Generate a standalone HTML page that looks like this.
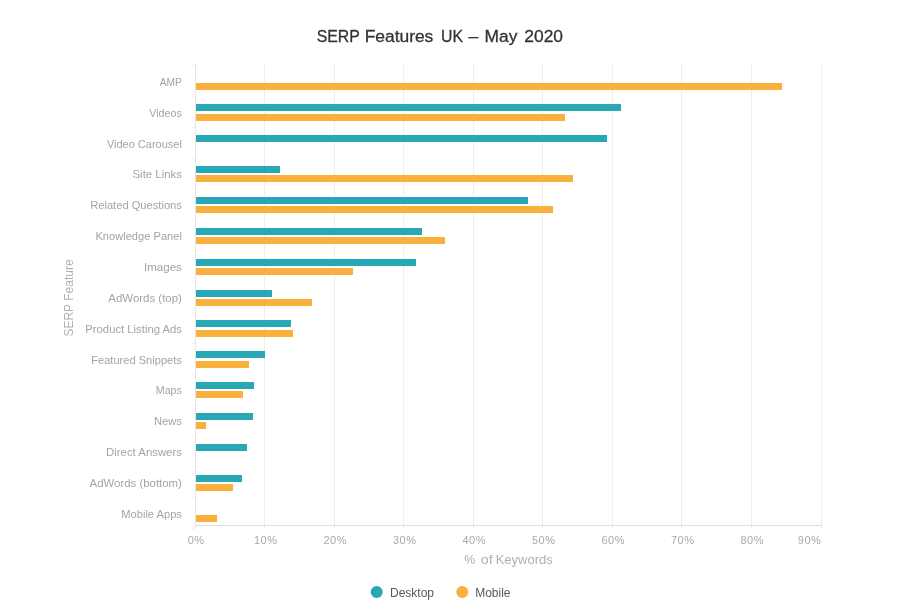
<!DOCTYPE html><html><head><meta charset="utf-8"><style>html,body{margin:0;padding:0;background:#fff;width:898px;height:613px;overflow:hidden}svg{display:block}text{font-family:"Liberation Sans",sans-serif}</style></head><body>
<svg width="898" height="613" viewBox="0 0 898 613" shape-rendering="crispEdges">
<rect x="0" y="0" width="898" height="613" fill="#fff"/>
<rect x="264" y="64" width="1" height="464" fill="#eeeeee"/>
<rect x="334" y="64" width="1" height="464" fill="#eeeeee"/>
<rect x="403" y="64" width="1" height="464" fill="#eeeeee"/>
<rect x="473" y="64" width="1" height="464" fill="#eeeeee"/>
<rect x="542" y="64" width="1" height="464" fill="#eeeeee"/>
<rect x="612" y="64" width="1" height="464" fill="#eeeeee"/>
<rect x="681" y="64" width="1" height="464" fill="#eeeeee"/>
<rect x="751" y="64" width="1" height="464" fill="#eeeeee"/>
<rect x="821" y="64" width="1" height="464" fill="#eeeeee"/>
<rect x="195" y="525" width="626" height="1" fill="#e0e0e0"/>
<rect x="195" y="525" width="1" height="3" fill="#e4e4e4"/>
<rect x="264" y="525" width="1" height="3" fill="#e4e4e4"/>
<rect x="334" y="525" width="1" height="3" fill="#e4e4e4"/>
<rect x="403" y="525" width="1" height="3" fill="#e4e4e4"/>
<rect x="473" y="525" width="1" height="3" fill="#e4e4e4"/>
<rect x="542" y="525" width="1" height="3" fill="#e4e4e4"/>
<rect x="612" y="525" width="1" height="3" fill="#e4e4e4"/>
<rect x="681" y="525" width="1" height="3" fill="#e4e4e4"/>
<rect x="751" y="525" width="1" height="3" fill="#e4e4e4"/>
<rect x="821" y="525" width="1" height="3" fill="#e4e4e4"/>
<rect x="192" y="65" width="3" height="1" fill="#f0f0f0"/>
<rect x="192" y="96" width="3" height="1" fill="#f0f0f0"/>
<rect x="192" y="127" width="3" height="1" fill="#f0f0f0"/>
<rect x="192" y="158" width="3" height="1" fill="#f0f0f0"/>
<rect x="192" y="188" width="3" height="1" fill="#f0f0f0"/>
<rect x="192" y="219" width="3" height="1" fill="#f0f0f0"/>
<rect x="192" y="250" width="3" height="1" fill="#f0f0f0"/>
<rect x="192" y="281" width="3" height="1" fill="#f0f0f0"/>
<rect x="192" y="312" width="3" height="1" fill="#f0f0f0"/>
<rect x="192" y="343" width="3" height="1" fill="#f0f0f0"/>
<rect x="192" y="374" width="3" height="1" fill="#f0f0f0"/>
<rect x="192" y="405" width="3" height="1" fill="#f0f0f0"/>
<rect x="192" y="435" width="3" height="1" fill="#f0f0f0"/>
<rect x="192" y="466" width="3" height="1" fill="#f0f0f0"/>
<rect x="192" y="497" width="3" height="1" fill="#f0f0f0"/>
<rect x="192" y="528" width="3" height="1" fill="#f0f0f0"/>
<rect x="195" y="64" width="1" height="464" fill="#e6e6e6"/>
<rect x="196" y="83" width="586.0" height="7" fill="#f8b13d"/>
<rect x="196" y="104" width="425.0" height="7" fill="#27a8b4"/>
<rect x="196" y="114" width="368.7" height="7" fill="#f8b13d"/>
<rect x="196" y="135" width="411.0" height="7" fill="#27a8b4"/>
<rect x="196" y="166" width="83.8" height="7" fill="#27a8b4"/>
<rect x="196" y="175" width="376.9" height="7" fill="#f8b13d"/>
<rect x="196" y="197" width="331.8" height="7" fill="#27a8b4"/>
<rect x="196" y="206" width="356.9" height="7" fill="#f8b13d"/>
<rect x="196" y="228" width="225.7" height="7" fill="#27a8b4"/>
<rect x="196" y="237" width="248.8" height="7" fill="#f8b13d"/>
<rect x="196" y="259" width="219.9" height="7" fill="#27a8b4"/>
<rect x="196" y="268" width="156.6" height="7" fill="#f8b13d"/>
<rect x="196" y="290" width="75.8" height="7" fill="#27a8b4"/>
<rect x="196" y="299" width="115.9" height="7" fill="#f8b13d"/>
<rect x="196" y="320" width="94.9" height="7" fill="#27a8b4"/>
<rect x="196" y="330" width="96.8" height="7" fill="#f8b13d"/>
<rect x="196" y="351" width="68.8" height="7" fill="#27a8b4"/>
<rect x="196" y="361" width="52.8" height="7" fill="#f8b13d"/>
<rect x="196" y="382" width="58.0" height="7" fill="#27a8b4"/>
<rect x="196" y="391" width="46.9" height="7" fill="#f8b13d"/>
<rect x="196" y="413" width="56.8" height="7" fill="#27a8b4"/>
<rect x="196" y="422" width="10.0" height="7" fill="#f8b13d"/>
<rect x="196" y="444" width="50.9" height="7" fill="#27a8b4"/>
<rect x="196" y="475" width="45.9" height="7" fill="#27a8b4"/>
<rect x="196" y="484" width="36.9" height="7" fill="#f8b13d"/>
<rect x="196" y="515" width="20.6" height="7" fill="#f8b13d"/>
</svg>
<svg width="898" height="613" viewBox="0 0 898 613" style="position:absolute;left:0;top:0;will-change:transform">
<text x="316.8" y="42.3" font-size="17.4" fill="#333" stroke="#333" stroke-width="0.3" textLength="43" lengthAdjust="spacingAndGlyphs">SERP</text>
<text x="364.7" y="42.3" font-size="17.4" fill="#333" stroke="#333" stroke-width="0.3">Features</text>
<text x="441.1" y="42.3" font-size="17.4" fill="#333" stroke="#333" stroke-width="0.3" textLength="22" lengthAdjust="spacingAndGlyphs">UK</text>
<text x="468.5" y="42.3" font-size="17.4" fill="#333" stroke="#333" stroke-width="0.3">–</text>
<text x="484.6" y="42.3" font-size="17.4" fill="#333" stroke="#333" stroke-width="0.3">May</text>
<text x="524.3" y="42.3" font-size="17.4" fill="#333" stroke="#333" stroke-width="0.3">2020</text>
<text x="181.9" y="85.8" text-anchor="end" font-size="11" fill="#a4a4a4" textLength="22.19" lengthAdjust="spacingAndGlyphs">AMP</text>
<text x="181.9" y="116.7" text-anchor="end" font-size="11" fill="#a4a4a4" textLength="32.73" lengthAdjust="spacingAndGlyphs">Videos</text>
<text x="181.9" y="147.5" text-anchor="end" font-size="11" fill="#a4a4a4" textLength="75.02" lengthAdjust="spacingAndGlyphs">Video Carousel</text>
<text x="181.9" y="178.4" text-anchor="end" font-size="11" fill="#a4a4a4" textLength="49.36" lengthAdjust="spacingAndGlyphs">Site Links</text>
<text x="181.9" y="209.2" text-anchor="end" font-size="11" fill="#a4a4a4" textLength="91.72" lengthAdjust="spacingAndGlyphs">Related Questions</text>
<text x="181.9" y="240.1" text-anchor="end" font-size="11" fill="#a4a4a4" textLength="86.44" lengthAdjust="spacingAndGlyphs">Knowledge Panel</text>
<text x="181.9" y="270.9" text-anchor="end" font-size="11" fill="#a4a4a4" textLength="37.83" lengthAdjust="spacingAndGlyphs">Images</text>
<text x="181.9" y="301.8" text-anchor="end" font-size="11" fill="#a4a4a4" textLength="73.55" lengthAdjust="spacingAndGlyphs">AdWords (top)</text>
<text x="181.9" y="332.7" text-anchor="end" font-size="11" fill="#a4a4a4" textLength="96.60" lengthAdjust="spacingAndGlyphs">Product Listing Ads</text>
<text x="181.9" y="363.5" text-anchor="end" font-size="11" fill="#a4a4a4" textLength="90.70" lengthAdjust="spacingAndGlyphs">Featured Snippets</text>
<text x="181.9" y="394.4" text-anchor="end" font-size="11" fill="#a4a4a4" textLength="26.08" lengthAdjust="spacingAndGlyphs">Maps</text>
<text x="181.9" y="425.2" text-anchor="end" font-size="11" fill="#a4a4a4" textLength="27.83" lengthAdjust="spacingAndGlyphs">News</text>
<text x="181.9" y="456.1" text-anchor="end" font-size="11" fill="#a4a4a4" textLength="75.80" lengthAdjust="spacingAndGlyphs">Direct Answers</text>
<text x="181.9" y="486.9" text-anchor="end" font-size="11" fill="#a4a4a4" textLength="92.26" lengthAdjust="spacingAndGlyphs">AdWords (bottom)</text>
<text x="181.9" y="517.8" text-anchor="end" font-size="11" fill="#a4a4a4" textLength="60.65" lengthAdjust="spacingAndGlyphs">Mobile Apps</text>
<text x="196.2" y="544" text-anchor="middle" font-size="11" letter-spacing="0.5" fill="#a8a8a8">0%</text>
<text x="265.7" y="544" text-anchor="middle" font-size="11" letter-spacing="0.5" fill="#a8a8a8">10%</text>
<text x="335.2" y="544" text-anchor="middle" font-size="11" letter-spacing="0.5" fill="#a8a8a8">20%</text>
<text x="404.7" y="544" text-anchor="middle" font-size="11" letter-spacing="0.5" fill="#a8a8a8">30%</text>
<text x="474.2" y="544" text-anchor="middle" font-size="11" letter-spacing="0.5" fill="#a8a8a8">40%</text>
<text x="543.7" y="544" text-anchor="middle" font-size="11" letter-spacing="0.5" fill="#a8a8a8">50%</text>
<text x="613.2" y="544" text-anchor="middle" font-size="11" letter-spacing="0.5" fill="#a8a8a8">60%</text>
<text x="682.7" y="544" text-anchor="middle" font-size="11" letter-spacing="0.5" fill="#a8a8a8">70%</text>
<text x="752.2" y="544" text-anchor="middle" font-size="11" letter-spacing="0.5" fill="#a8a8a8">80%</text>
<text x="809.6" y="544" text-anchor="middle" font-size="11" letter-spacing="0.5" fill="#a8a8a8">90%</text>
<text x="464.3" y="563.8" font-size="12" fill="#b0b0b0" textLength="11" lengthAdjust="spacingAndGlyphs">%</text>
<text x="480.7" y="563.8" font-size="12" fill="#b0b0b0" textLength="12" lengthAdjust="spacingAndGlyphs">of</text>
<text x="495.7" y="563.8" font-size="12" fill="#b0b0b0" textLength="57" lengthAdjust="spacingAndGlyphs">Keywords</text>
<text transform="translate(72.6,298) rotate(-90)" x="0" y="0" text-anchor="middle" font-size="12" fill="#b0b0b0">SERP Feature</text>
<circle cx="376.7" cy="592" r="6" fill="#27a8b4"/>
<text x="390" y="597" font-size="12" fill="#585858">Desktop</text>
<circle cx="462.3" cy="592" r="6" fill="#f8b13d"/>
<text x="475.2" y="597" font-size="12" fill="#585858">Mobile</text>
</svg></body></html>
